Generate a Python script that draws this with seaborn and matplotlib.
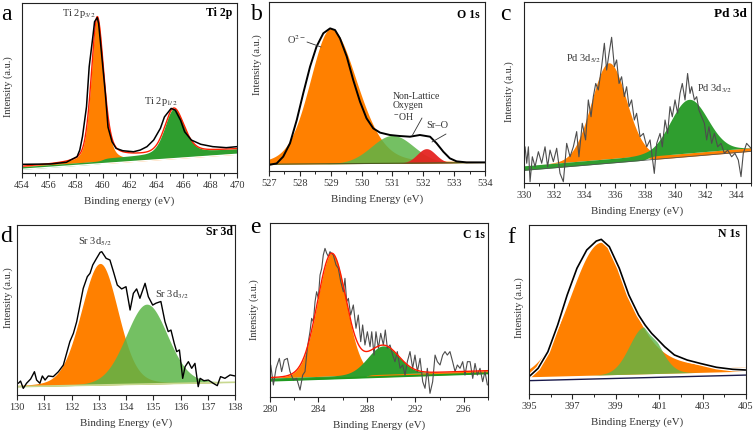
import numpy as np
import matplotlib
matplotlib.use("Agg")
import matplotlib.pyplot as plt
import seaborn as sns

sns.set_style("ticks")
plt.rcParams['font.family'] = ['Liberation Serif', 'DejaVu Serif']
plt.rcParams['mathtext.fontset'] = 'stix'

''' Measured spectra (read off the reference, intensity in % of panel height) '''
ti_x = [454.0, 456.1, 457.3, 457.7, 458.1, 458.3, 458.5, 458.8, 459.0, 459.3, 459.4, 459.6,
        459.7, 459.9, 460.2, 460.4, 460.7, 461.0, 461.5, 462.3, 462.8, 463.3, 463.8, 464.3,
        464.6, 464.9, 465.1, 465.4, 465.8, 466.1, 466.6, 467.3, 468.2, 469.2, 470.0]
ti_y = [5.1, 5.3, 6.3, 8.0, 9.6, 13.5, 21.4, 39, 62.5, 82, 89, 91.4,
        88, 72, 47, 27, 18.4, 14.5, 13.1, 12.5, 13.5, 15.5, 19.4, 26.3,
        33, 36, 38, 37, 31, 24.3, 19.4, 16.9, 15.5, 14.9, 15.5]

o_x = [527.0, 527.25, 527.46, 527.68, 527.9, 528.11, 528.33, 528.54, 528.76, 528.98, 529.14,
       529.3, 529.52, 529.73, 529.95, 530.16, 530.38, 530.6, 530.92, 531.24, 531.57, 531.89,
       532.22, 532.43, 532.65, 532.86, 533.08, 533.4, 533.94, 534.0]
o_y = [3.6, 4.5, 8.5, 16.4, 30.2, 46, 61.7, 73.6, 81.5, 84.4, 83.4,
       78.5, 67.7, 53.8, 41, 31.2, 25.2, 22.7, 21.3, 20.7, 20.3, 21.3,
       20.3, 16.4, 11.4, 7.5, 5.7, 5.1, 5.1, 5.1]

pd_x = [330.07, 330.18, 330.29, 330.40, 330.55, 330.73, 330.95, 331.17, 331.39, 331.56,
        331.72, 331.94, 332.16, 332.38, 332.60, 332.82, 333.04, 333.26, 333.48, 333.63,
        333.85, 334.07, 334.25, 334.43, 334.58, 334.74, 334.91, 335.13, 335.31, 335.46,
        335.62, 335.79, 335.97, 336.12, 336.28, 336.45, 336.63, 336.78, 336.94, 337.11,
        337.29, 337.44, 337.67, 337.89, 338.11, 338.33, 338.61, 338.77, 338.99, 339.14,
        339.32, 339.49, 339.65, 339.80, 339.98, 340.15, 340.31, 340.46, 340.64, 340.81,
        340.97, 341.08, 341.26, 341.41, 341.56, 341.74, 341.92, 342.07, 342.22, 342.40,
        342.58, 342.80, 343.02, 343.24, 343.46, 343.72, 343.94, 344.16, 344.34, 344.49,
        344.71, 345.0]
pd_y = [20, 10.9, 20, 0.7, 14.5, 9, 17.3, 10.9, 20, 9,
        18.2, 11.8, 19.2, 5.3, 0.7, 21.9, 14.5, 20, 28.4, 14.5,
        33, 23.8, 45.9, 36.6, 47.7, 55, 51.4, 64.3, 77.2, 62.4,
        71.6, 80.5, 64.3, 68, 55, 58.7, 47.7, 53.2, 42.2, 45.9,
        34.8, 38.5, 25.6, 27.4, 20, 23.8, 5.3, 21.9, 27.4, 20,
        34.8, 27.4, 42.2, 36.6, 45.9, 38.5, 49.5, 55, 45.9, 60.5,
        49.5, 53.2, 45.9, 47.7, 40.3, 36.6, 33, 23.8, 31.1, 21.9,
        27.4, 20, 21.9, 16.4, 18.2, 14.5, 16.4, 12.7, 3.5, 16.4,
        21.9, 19.2]

sr_x = [130.05, 130.13, 130.23, 130.35, 130.50, 130.64, 130.72, 130.84, 130.93, 131.03,
        131.15, 131.33, 131.52, 131.70, 131.82, 131.94, 132.07, 132.19, 132.31, 132.43,
        132.58, 132.68, 132.78, 132.92, 133.05, 133.11, 133.27, 133.41, 133.54, 133.68,
        133.84, 134.00, 134.15, 134.27, 134.39, 134.51, 134.70, 134.82, 134.98, 135.10,
        135.28, 135.43, 135.55, 135.65, 135.77, 135.86, 135.96, 136.08, 136.17, 136.29,
        136.41, 136.53, 136.65, 136.72, 136.86, 137.02, 137.20, 137.35, 137.47, 137.63,
        137.82, 138.0]
sr_y = [6.9, 8.2, 3.9, 6.9, 9.4, 13.7, 8.8, 6.9, 11.2, 8.8,
        11.2, 10.8, 13.7, 17.6, 24.5, 31.4, 36.3, 43.1, 52.9, 62.7,
        69.6, 71.6, 76.5, 80.4, 83.9, 84.3, 80.4, 79.4, 72.5, 64.7,
        62.4, 63.7, 50.0, 59.8, 62.4, 56.9, 65.7, 57.8, 52.9, 54.0,
        55.0, 43.1, 37.3, 38.2, 30.4, 25.5, 26.5, 9.8, 16.7, 19.6,
        15.7, 18.6, 4.9, 9.8, 8.4, 8.8, 6.9, 5.5, 10.8, 9.8,
        11.8, 11.2]

c_x = [280.06, 280.28, 280.5, 280.77, 280.96, 281.18, 281.43, 281.65, 281.93, 282.2,
       282.48, 282.7, 282.89, 283.08, 283.3, 283.44, 283.58, 283.72, 283.85, 283.99,
       284.13, 284.27, 284.4, 284.54, 284.68, 284.82, 284.95, 285.23, 285.45, 285.64,
       285.84, 286.06, 286.19, 286.33, 286.47, 286.66, 286.88, 287.1, 287.29, 287.49,
       287.65, 287.84, 288.04, 288.26, 288.4, 288.59, 288.75, 288.95, 289.14, 289.36,
       289.52, 289.69, 289.91, 290.13, 290.32, 290.51, 290.74, 290.96, 291.15, 291.34,
       291.56, 291.78, 291.97, 292.17, 292.39, 292.61, 292.8, 292.99, 293.21, 293.43,
       293.63, 293.82, 294.04, 294.26, 294.45, 294.64, 294.86, 295.08, 295.28, 295.47,
       295.69, 295.91, 296.1, 296.3, 296.52, 296.74, 296.93, 297.12, 297.34, 297.56,
       297.75, 297.95]
c_y = [18.4, 6.9, 16.5, 22.2, 14.6, 21.3, 22.2, 14.6, 9.8, 10.7,
       4.0, 12.6, 14.6, 28, 37.5, 45.2, 43.3, 54.8, 60.5, 56.7,
       70.1, 73.9, 81.6, 85.4, 82.6, 80.7, 83.5, 81.6, 75.9, 73.9,
       66.3, 60.5, 68.2, 54.8, 56.7, 47.1, 52.9, 39.5, 47.1, 31.8,
       41.4, 29.9, 37.5, 28.9, 37.5, 24.1, 37.5, 28, 36.6, 29.9,
       38.5, 28, 29.9, 24.1, 20.3, 26.1, 16.5, 18.4, 12.6, 20.3,
       26.1, 16.5, 24.1, 14.6, 22.2, 8.8, 5.0, 16.5, 2.1, 8.8,
       24.1, 20.3, 18.4, 24.1, 26.1, 24.1, 26.1, 20.3, 14.6, 18.4,
       16.5, 20.3, 12.6, 20.3, 20.3, 10.7, 19.3, 12.6, 16.5, 8.8,
       14.6, 6.9]

n_x = [395.04, 395.42, 395.87, 396.32, 396.76, 397.21, 397.66, 398.1, 398.33, 398.7, 399.16,
       399.6, 400.05, 400.35, 400.65, 400.95, 401.25, 401.7, 402.29, 402.89, 403.64, 404.39,
       404.98]
n_y = [10.7, 15.2, 25, 40.8, 58.6, 74.4, 85.2, 90.5, 91.5, 87.2, 74.4,
       58.6, 46.7, 40.8, 35.9, 32, 28, 23.1, 20.1, 18.1, 15.8, 14.6, 14.2]

''' Fitted components: (centre eV, height, FWHM low side, FWHM high side, lorentz low, lorentz high) '''
ti_fit = [(459.6, 85, 1.05, 1.15, 0.35, 0.4), (465.3, 26.5, 1.6, 1.8, 0.3, 0.3)]
o_fit = [(529.0, 80, 1.6, 2.0, 0.2, 0.2), (531.0, 16.5, 1.6, 1.6, 0, 0), (532.1, 8.5, 0.7, 0.7, 0, 0)]
pd_fit = [(335.6, 53, 2.7, 2.7, 0, 0), (340.9, 29.6, 2.9, 2.9, 0, 0)]
sr_fit = [(133.05, 71.5, 1.65, 1.55, 0.15, 0.15), (134.76, 47, 1.8, 1.8, 0.1, 0.1)]
c_fit = [(285.1, 70.5, 2.8, 2.8, 0.05, 0.05), (289.35, 16.3, 3.0, 3.0, 0, 0)]
n_fit = [(398.33, 78.5, 3.3, 3.0, 0, 0.6), (400.31, 27.8, 1.6, 1.6, 0, 0)]

# background ends (low eV, high eV)
ti_bg = (2.2, 11.0)
o_bg = (4.0, 5.0)
pd_bg = (7.0, 17.5)
sr_bg = (4.9, 7.5)
c_bg = (9.4, 13.6)
n_bg = (7.9, 11.2)

ti_ticks = np.arange(454, 471, 2)
o_ticks = np.arange(527, 535, 1)
pd_ticks = np.arange(330, 345, 2)
sr_ticks = np.arange(130, 139, 1)
c_ticks = np.arange(280, 297, 4)
n_ticks = np.arange(395, 406, 2)

ORANGE = '#ff8000'
GREEN = '#2f9e2f'
LGREEN = '#5cb548'
RED = '#e52420'
TXT = '#333333'
W, H = 754, 430


def peak(x, c, h, wl, wr, el, er):
    hw = np.where(x < c, wl, wr) / 2.0
    eta = np.where(x < c, el, er)
    t = ((x - c) / hw) ** 2
    return h * ((1 - eta) * np.exp(-np.log(2) * t) + eta / (1 + t))


def line_bg(x, ends):
    return ends[0] + (ends[1] - ends[0]) * (x - x[0]) / (x[-1] - x[0])


def make_ax(rect_px, lim, ticks, minor, xlabel):
    l, r, t, b = rect_px
    ax = fig.add_axes([l / W, 1 - b / H, (r - l) / W, (b - t) / H])
    ax.set_xlim(*lim)
    ax.set_ylim(0, 100)
    ax.set_xticks(ticks)
    if minor:
        ax.set_xticks(np.arange(lim[0], lim[1] + 0.01, minor), minor=True)
    ax.set_yticks([])
    ax.tick_params(axis='x', which='major', direction='out', length=3.5, width=0.8,
                   labelsize=7.5, labelcolor=TXT, pad=2)
    ax.tick_params(axis='x', which='minor', direction='out', length=2, width=0.7)
    for sp in ax.spines.values():
        sp.set_linewidth(0.8)
        sp.set_color('#222222')
    ax.set_xlabel(xlabel, fontsize=7.8, color=TXT, labelpad=5)
    return ax


def layered(ax, grid, bg, fit, hl, hr, st, sx, c1, c2, env=None):
    L = line_bg(grid, bg)
    s = 0.5 * (1 + np.tanh((grid - sx) / 0.3))
    p1 = peak(grid, *fit[0])
    p2 = peak(grid, *fit[1])
    common = L + hl * (1 - s) + hr * s
    if env:
        sns.lineplot(x=grid, y=common + st * s + p1 + p2, ax=ax, color=env, lw=1.0,
                     estimator=None)
    ax.fill_between(grid, L + hl * (1 - s), common + p1, color=c1, lw=0)
    ax.fill_between(grid, L + hr * s, common + st * s + p2, color=c2, lw=0)
    return L


def ptext(px, py, s, **kw):
    kw.setdefault('fontsize', 7.5)
    kw.setdefault('color', TXT)
    kw.setdefault('ha', 'center')
    kw.setdefault('va', 'center')
    fig.text(px / W, 1 - py / H, s, **kw)


fig = plt.figure(figsize=(W / 100, H / 100), dpi=100)

# a  Ti 2p
ax = make_ax((22, 237, 3, 173), (454, 470), ti_ticks, 1, 'Binding energy (eV)')
g = np.linspace(454, 470, 800)
L = layered(ax, g, ti_bg, ti_fit, 1.5, 0.5, 2.5, 460.0, ORANGE, GREEN, env='#ff2000')
sns.lineplot(x=g, y=L, ax=ax, color='white', lw=1.0, estimator=None)
sns.lineplot(x=ti_x, y=ti_y, ax=ax, color='black', lw=1.1, estimator=None)

# b  O 1s
ax = make_ax((269, 485, 2, 171), (527, 534), o_ticks, 0.5, 'Binding Energy (eV)')
g = np.linspace(527, 534, 800)
L = line_bg(g, o_bg)
ax.fill_between(g, L, L + peak(g, *o_fit[0]), color=ORANGE, lw=0)
ax.fill_between(g, L, L + peak(g, *o_fit[1]), color=LGREEN, alpha=0.85, lw=0)
ax.fill_between(g, L, L + peak(g, *o_fit[2]), color=RED, alpha=0.95, lw=0)
sns.lineplot(x=g, y=L, ax=ax, color='#4a5a20', lw=0.8, estimator=None)
sns.lineplot(x=o_x, y=o_y, ax=ax, color='black', lw=1.4, estimator=None)

# c  Pd 3d
ax = make_ax((524, 751, 2, 183), (330, 345), pd_ticks, 1, 'Binding Energy (eV)')
g = np.linspace(330, 345, 800)
L = layered(ax, g, pd_bg, pd_fit, 2.5, 2.0, 0.0, 338.2, ORANGE, GREEN)
sns.lineplot(x=g, y=L, ax=ax, color='#555555', lw=0.6, estimator=None)
sns.lineplot(x=pd_x, y=pd_y, ax=ax, color='#4d4d4d', lw=0.8, estimator=None)

# d  Sr 3d
ax = make_ax((17, 235, 225, 395), (130, 138), sr_ticks, None, 'Binding Energy (eV)')
g = np.linspace(130, 138, 800)
L = line_bg(g, sr_bg)
ax.fill_between(g, L, L + peak(g, *sr_fit[0]), color=ORANGE, lw=0)
ax.fill_between(g, L, L + peak(g, *sr_fit[1]), color=LGREEN, alpha=0.85, lw=0)
sns.lineplot(x=g, y=L, ax=ax, color='#c8d890', lw=1.2, estimator=None)
sns.lineplot(x=sr_x, y=sr_y, ax=ax, color='black', lw=1.0, estimator=None)

# e  C 1s
ax = make_ax((270, 488, 223, 397), (280, 298), c_ticks, 2, 'Binding Energy (eV)')
g = np.linspace(280, 298, 800)
L = layered(ax, g, c_bg, c_fit, 1.5, 1.5, 0.0, 288.0, ORANGE, GREEN)
p_env = L + 1.5 + peak(g, *c_fit[0]) + peak(g, *c_fit[1])
sns.lineplot(x=g, y=L, ax=ax, color='#1f9a1f', lw=1.4, estimator=None)
sns.lineplot(x=c_x, y=c_y, ax=ax, color='#4d4d4d', lw=0.8, estimator=None)
sns.lineplot(x=g, y=p_env, ax=ax, color='#ff1a00', lw=1.0, estimator=None)

# f  N 1s
ax = make_ax((529, 746, 225, 394), (395, 405), n_ticks, 1, 'Binding Energy (eV)')
g = np.linspace(395, 405, 800)
L = line_bg(g, n_bg)
ax.fill_between(g, L + 2.3, L + 2.3 + peak(g, *n_fit[0]), color=ORANGE, lw=0)
ax.fill_between(g, L + 2.3, L + 2.3 + peak(g, *n_fit[1]), color=LGREEN, alpha=0.8, lw=0)
sns.lineplot(x=g, y=L, ax=ax, color='#1a1a4a', lw=1.0, estimator=None)
sns.lineplot(x=n_x, y=n_y, ax=ax, color='white', lw=3.0, estimator=None)
sns.lineplot(x=n_x, y=n_y, ax=ax, color='black', lw=1.2, estimator=None)

# y labels
for px, py in [(8, 87), (257, 65), (509, 92), (8, 298), (254, 310), (519, 308)]:
    ptext(px, py, 'Intensity (a.u.)', rotation=90, fontsize=7.5)

# panel letters
for px, py, s in [(1, 20, 'a'), (251, 20, 'b'), (500, 20, 'c'),
                  (0, 242, 'd'), (250, 233, 'e'), (507, 243, 'f')]:
    ptext(px, py, s, fontsize=17, color='black', ha='left', va='baseline')

# panel titles
for px, py, s, fs in [(232, 13, 'Ti 2p', 8.5), (480, 15, 'O 1s', 8.5), (747, 14, 'Pd 3d', 9.5),
                      (233, 232, 'Sr 3d', 8.5), (485, 235, 'C 1s', 8.5), (740, 234, 'N 1s', 8.5)]:
    ptext(px, py, s, fontsize=fs, fontweight='bold', color='black', ha='right')

# peak labels
ptext(79, 14, 'Ti 2p$_{3/2}$')
ptext(161, 101, 'Ti 2p$_{1/2}$')
ptext(296, 40, 'O$^{2-}$')
ptext(393, 107, 'Non-Lattice\nOxygen\n$^{-}$OH', ha='left', fontsize=7, linespacing=1.05)
ptext(426, 125, 'Sr\u2013O', ha='left')
ptext(584, 59, 'Pd 3d$_{5/2}$')
ptext(715, 89, 'Pd 3d$_{3/2}$')
ptext(95, 242, 'Sr 3d$_{5/2}$')
ptext(172, 295, 'Sr 3d$_{3/2}$')

# leader lines (figure pixels)
for (x0, y0), (x1, y1) in [((307, 42), (321, 47)), ((422, 118), (412, 136)), ((446, 134), (432, 142))]:
    fig.add_artist(plt.Line2D([x0 / W, x1 / W], [1 - y0 / H, 1 - y1 / H], color='#333333', lw=0.6))

fig.savefig('out.png', dpi=100)
